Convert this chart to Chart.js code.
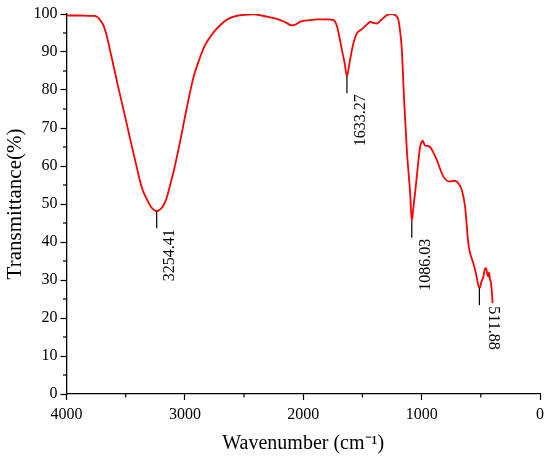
<!DOCTYPE html>
<html>
<head>
<meta charset="utf-8">
<script src="https://cdn.jsdelivr.net/npm/chart.js@4.4.0/dist/chart.umd.min.js"></script>
<style>
html,body{margin:0;padding:0;background:#fff;}
#wrap{width:550px;height:461px;position:relative;}
</style>
</head>
<body>
<div id="wrap"><canvas id="c"></canvas></div>
<script>
// Wavenumber (cm-1) and transmittance (%)
const wavenumbers = [4000,3900,3800,3760,3745,3725,3705,3685,3665,3645,3629,3600,3572,3544,3516,3460,3403,3370,3348,3310,3285,3260,3238,3215,3190,3170,3150,3120,3094,3038,2982,2926,2869,2830,2785,2740,2700,2650,2588,2500,2419,2306,2194,2150,2096,2060,2025,1941,1884,1800,1744,1725,1710,1695,1673,1650,1631,1610,1589,1570,1547,1505,1470,1435,1400,1378,1340,1294,1260,1238,1215,1196,1180,1167,1148,1125,1097,1083,1070,1055,1041,1025,1013,1000,990,975,956,928,900,872,816,760,730,703,680,661,633,605,590,563,540,512,495,478,465,456,445,436,430,422,415,408,400];
const transmittance = [99.6,99.6,99.5,99.5,99.3,98.8,97.9,96.8,94.8,92.3,90.0,86.0,82.0,78.2,74.5,66.8,59.2,55.0,53.0,50.6,49.2,48.4,48.1,48.4,49.2,50.3,52.0,55.5,58.7,66.8,75.6,83.5,88.8,91.8,94,95.8,97.1,98.4,99.3,99.8,99.9,99.3,98.4,97.8,97.0,97.3,98,98.4,98.6,98.6,98.4,97.6,96.2,94,90.5,87,83.6,87,90.5,93,94.9,96.0,97,97.9,97.6,97.5,98.5,99.7,100,99.9,99.5,98.4,95,90.5,77.4,64.2,52.8,45.6,49,53,57.2,62,65,66.3,66.7,65.5,65.3,65,63.5,61.6,57.2,55.9,56.1,55.9,55,53.7,49.3,39.5,37,34.4,31.5,27.8,29.5,30.9,33.0,33.1,31.5,30.9,32,30,29.5,27.4,23.9];
// Peak annotations
const peakPositions = [3238,1631,1083,512];
const peakValues = [48.1,83.6,45.6,27.8];
const peakLabels = ["3254.41","1633.27","1086.03","511.88"];
const peakRotations = [-1,-1,-1,1];
// Axis ticks
const xMajorTicks = [0,1000,2000,3000,4000];
const xMinorTicks = [500,1500,2500,3500];
const yMinorTicks = [5,15,25,35,45,55,65,75,85,95];

const points = wavenumbers.map((w,i)=>({x:w,y:transmittance[i]}));
const FONT = "'Liberation Serif','Times New Roman',serif";

const extras = {
  id:'extras',
  afterDraw(chart){
    const ctx = chart.ctx, xs = chart.scales.x, ys = chart.scales.y;
    ctx.save();
    ctx.strokeStyle = '#000';
    ctx.lineWidth = 1.2;
    // minor ticks
    xMinorTicks.forEach(v=>{
      const px = xs.getPixelForValue(v);
      ctx.beginPath(); ctx.moveTo(px, ys.bottom); ctx.lineTo(px, ys.bottom+3.5); ctx.stroke();
    });
    yMinorTicks.forEach(v=>{
      const py = ys.getPixelForValue(v);
      ctx.beginPath(); ctx.moveTo(xs.left, py); ctx.lineTo(xs.left-3.5, py); ctx.stroke();
    });
    // peak markers
    ctx.fillStyle = '#000';
    ctx.font = "16px " + FONT;
    ctx.textBaseline = 'middle';
    peakPositions.forEach((w,i)=>{
      const px = xs.getPixelForValue(w);
      const py = ys.getPixelForValue(peakValues[i]);
      const end = py + 17;
      ctx.lineWidth = 1.2;
      ctx.beginPath(); ctx.moveTo(px, py); ctx.lineTo(px, end); ctx.stroke();
      ctx.save();
      ctx.translate(px + 13.5, end + 1);
      if (peakRotations[i] < 0) { ctx.rotate(-Math.PI/2); ctx.textAlign = 'right'; }
      else { ctx.rotate(Math.PI/2); ctx.textAlign = 'left'; }
      ctx.fillText(peakLabels[i], 0, 0);
      ctx.restore();
    });
    ctx.restore();
  }
};

new Chart(document.getElementById('c'), {
  type:'line',
  data:{datasets:[{data:points,borderColor:'#ff0000',borderWidth:1.8,pointRadius:0,fill:false,tension:0.4,cubicInterpolationMode:'monotone'}]},
  options:{
    responsive:true, maintainAspectRatio:false, animation:false,
    layout:{padding:{top:14,right:10,left:0,bottom:0}},
    plugins:{legend:{display:false},tooltip:{enabled:false}},
    scales:{
      x:{type:'linear',reverse:true,min:0,max:4000,
        afterBuildTicks(s){ s.ticks = xMajorTicks.map(v=>({value:v})); },
        afterFit(s){ s.height = 67; },
        ticks:{color:'#000',font:{family:FONT,size:16},padding:5,maxRotation:0,callback:(v)=>String(v)},
        grid:{drawOnChartArea:false,tickLength:6,color:'#000',tickWidth:1.2},
        border:{color:'#000',width:1.3},
        title:{display:true,text:'Wavenumber (cm⁻¹)',color:'#000',font:{family:FONT,size:20},padding:{top:4,bottom:5}}
      },
      y:{min:0,max:100,
        ticks:{stepSize:10,color:'#000',font:{family:FONT,size:16},padding:3,callback:(v)=>String(v)},
        afterFit(s){ s.width = 66.5; },
        grid:{drawOnChartArea:false,tickLength:6,color:'#000',tickWidth:1.2},
        border:{color:'#000',width:1.3},
        title:{display:true,text:'Transmittance(%)',color:'#000',font:{family:FONT,size:21},padding:{top:2.5,bottom:4}}
      }
    }
  },
  plugins:[extras]
});
</script>
</body>
</html>
